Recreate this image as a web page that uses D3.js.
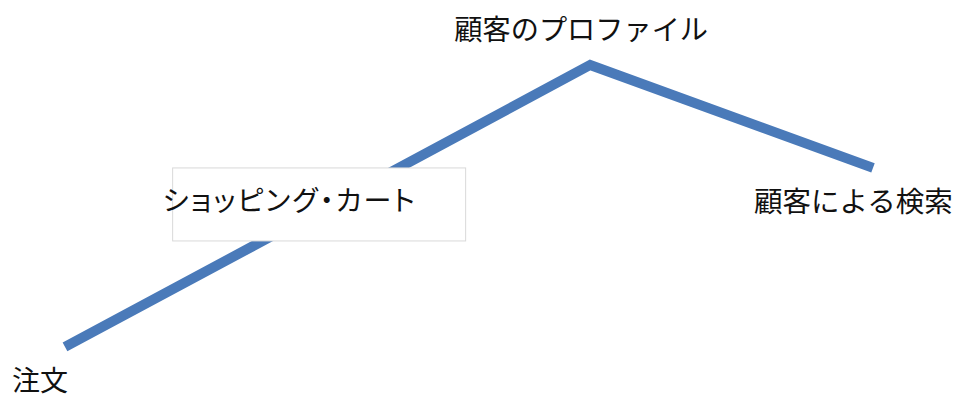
<!DOCTYPE html>
<html><head><meta charset="utf-8">
<script src="https://cdn.jsdelivr.net/npm/d3@7"></script>
<style>html,body{margin:0;padding:0;background:#fff;}</style>
</head><body>
<svg id="c" width="957" height="396"></svg>
<script>
const categories = ["注文", "ショッピング・カート", "顧客のプロファイル", "顧客による検索"];
const xValues = [0, 33, 65, 100];
const yValues = [12.4, 48.5, 83.6, 57.6];

const W = 957, H = 396;
const svg = d3.select("#c");
const x = d3.scaleLinear().domain([0, 100]).range([65, 873]);
const y = d3.scaleLinear().domain([0, 100]).range([396, 0]);
const data = categories.map((c, i) => ({c, x: xValues[i], y: yValues[i]}));

svg.append("path")
  .datum(data)
  .attr("d", d3.line().x(d => x(d.x)).y(d => y(d.y)))
  .attr("fill", "none")
  .attr("stroke", "#4a7ab9")
  .attr("stroke-width", 10)
  .attr("stroke-linejoin", "miter")
  .attr("stroke-linecap", "butt");

// label placement offsets relative to each point (style, not data)
const offs = [
  {dx: -53, dy: 44, anchor: "start", box: false, palt: false, ls: 0, size: 28},
  {dx: -169, dy: 7, anchor: "start", box: true, palt: true, ls: 2, size: 28},
  {dx: -9, dy: -25, anchor: "middle", box: false, palt: false, ls: 0, size: 28.2},
  {dx: -119, dy: 44, anchor: "start", box: false, palt: false, ls: 0, size: 28.5}
];

const font = "'Noto Sans CJK JP', 'Noto Sans', sans-serif";
data.forEach((d, i) => {
  const o = offs[i];
  const px = x(d.x), py = y(d.y);
  if (o.box) {
    svg.append("rect")
      .attr("x", px - 159).attr("y", py - 36)
      .attr("width", 293).attr("height", 73)
      .attr("fill", "#fff")
      .attr("stroke", "#d9d9d9").attr("stroke-width", 1);
  }
  svg.append("text")
    .attr("x", px + o.dx).attr("y", py + o.dy)
    .attr("text-anchor", o.anchor)
    .attr("font-family", font)
    .attr("font-size", o.size)
    .attr("letter-spacing", o.ls)
    .attr("fill", "#111")
    .style("font-feature-settings", o.palt ? "'palt' 1" : null)
    .text(d.c);
});
</script>
</body></html>
